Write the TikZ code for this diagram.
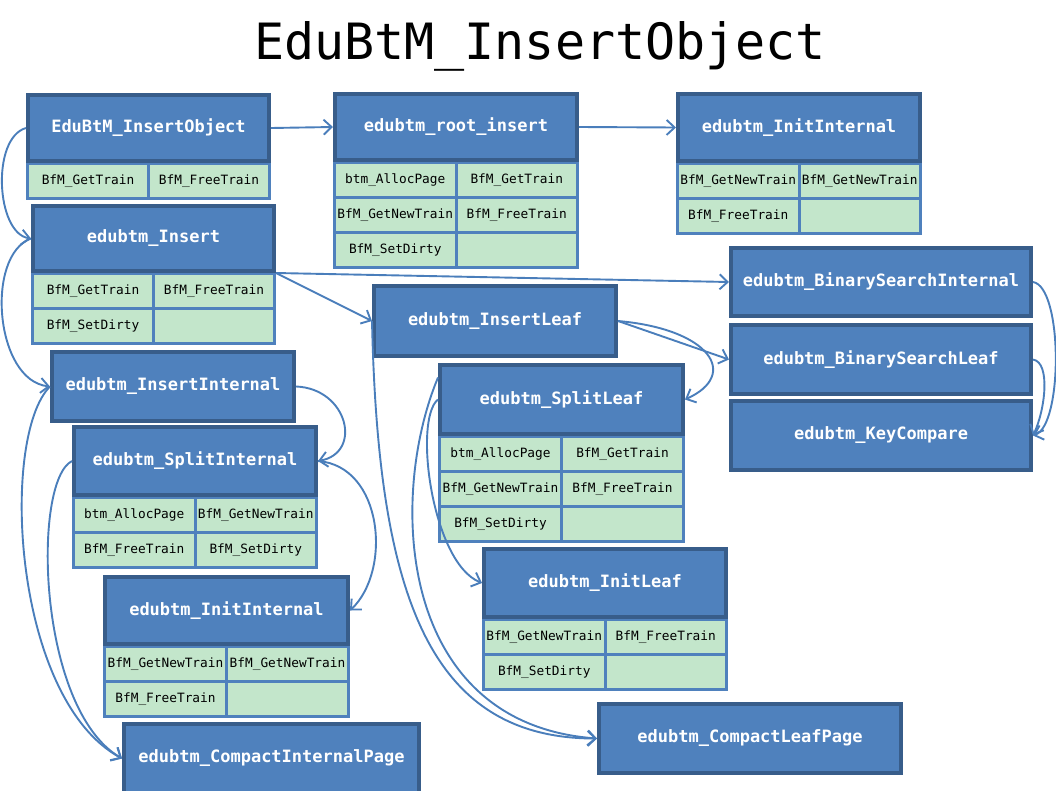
\documentclass[tikz,border=0pt]{standalone}
\usepackage{fontspec}
\newfontfamily\dmono{DejaVu Sans Mono}
\usetikzlibrary{arrows.meta,calc}
\definecolor{hdrfill}{HTML}{4F81BD}
\definecolor{hdrline}{HTML}{385D8A}
\definecolor{tabblue}{HTML}{4F81BD}
\definecolor{cellgreen}{HTML}{C3E6CB}
\definecolor{linkblue}{HTML}{4A7EBB}
\tikzset{
  hdr/.style={fill=hdrfill, draw=hdrline, line width=4pt, text=white,
    font=\dmono\bfseries\fontsize{17}{20}\selectfont, inner sep=0pt},
  cell/.style={fill=cellgreen, inner sep=0pt, text=black,
    font=\dmono\fontsize{12.8}{15}\selectfont},
  link/.style={draw=linkblue, line width=1.9pt, -{Straight Barb[length=8pt,width=15pt]}},
  titletext/.style={font=\dmono\fontsize{50}{55}\selectfont, text=black, inner sep=0pt},
}
\newcommand\mkhdr[6]{%
  \node[hdr, minimum width={#4-#2-4}, minimum height={#5-#3-4}] (#1) at ({(#2+#4)/2},{(#3+#5)/2}) {#6};}
\newcommand\mktbl[6]{%
  \fill[tabblue] (#2,#3) rectangle (#4,{#3+#5*35+3});
  \pgfmathsetmacro\cw{(#4-#2-9)/2}
  \foreach \celltext [count=\i from 0] in {#6} {
    \pgfmathtruncatemacro\myrow{floor(\i/2)}
    \pgfmathtruncatemacro\mycol{mod(\i,2)}
    \pgfmathsetmacro\cx{#2+3+\mycol*(\cw+3)+\cw/2}
    \pgfmathsetmacro\cy{#3+3+\myrow*35+16}
    \node[cell, minimum width=\cw, minimum height=32] (#1-\i) at (\cx,\cy) {\celltext};
  }}
\begin{document}
\begin{tikzpicture}[x=1pt,y=-1pt]
\useasboundingbox (0,0) rectangle (1056,790);
\clip (0,0) rectangle (1056,790);

\node[titletext] (title) at (540,46) {EduBtM\_InsertObject};

% tables
\mktbl{At}{26}{162}{271}{1}{BfM\_GetTrain,BfM\_FreeTrain}
\mktbl{Ct}{333}{161}{579}{3}{btm\_AllocPage,BfM\_GetTrain,BfM\_GetNewTrain,BfM\_FreeTrain,BfM\_SetDirty,{}}
\mktbl{Dt}{676}{162}{922}{2}{BfM\_GetNewTrain,BfM\_GetNewTrain,BfM\_FreeTrain,{}}
\mktbl{Bt}{31}{272}{276}{2}{BfM\_GetTrain,BfM\_FreeTrain,BfM\_SetDirty,{}}
\mktbl{It}{438}{435}{685}{3}{btm\_AllocPage,BfM\_GetTrain,BfM\_GetNewTrain,BfM\_FreeTrain,BfM\_SetDirty,{}}
\mktbl{Kt}{72}{496}{318}{2}{btm\_AllocPage,BfM\_GetNewTrain,BfM\_FreeTrain,BfM\_SetDirty}
\mktbl{Lt}{103}{645}{350}{2}{BfM\_GetNewTrain,BfM\_GetNewTrain,BfM\_FreeTrain,{}}
\mktbl{Nt}{482}{618}{728}{2}{BfM\_GetNewTrain,BfM\_FreeTrain,BfM\_SetDirty,{}}

% headers
\mkhdr{A}{26}{93}{271}{163}{EduBtM\_InsertObject}
\mkhdr{C}{333}{92}{579}{162}{edubtm\_root\_insert}
\mkhdr{D}{676}{92}{922}{163}{edubtm\_InitInternal}
\mkhdr{B}{31}{204}{276}{273}{edubtm\_Insert}
\mkhdr{H}{372}{284}{618}{358}{edubtm\_InsertLeaf}
\mkhdr{E}{729}{246}{1033}{318}{edubtm\_BinarySearchInternal}
\mkhdr{F}{729}{323}{1033}{396}{edubtm\_BinarySearchLeaf}
\mkhdr{G}{729}{399}{1033}{472}{edubtm\_KeyCompare}
\mkhdr{I}{438}{363}{685}{436}{edubtm\_SplitLeaf}
\mkhdr{J}{50}{350}{296}{423}{edubtm\_InsertInternal}
\mkhdr{K}{72}{425}{318}{497}{edubtm\_SplitInternal}
\mkhdr{L}{103}{575}{350}{646}{edubtm\_InitInternal}
\mkhdr{M}{122}{722}{421}{795}{edubtm\_CompactInternalPage}
\mkhdr{N}{482}{547}{728}{619}{edubtm\_InitLeaf}
\mkhdr{O}{597}{702}{903}{775}{edubtm\_CompactLeafPage}

\coordinate (Iup) at ($(I.west)+(0,-22)$);

% connectors
\draw[link] (A.east) -- (C.west);
\draw[link] (C.east) -- (D.west);
\draw[link] (A.west) .. controls +(-35,10) and +(-35,-5) .. (B.west);
\draw[link] (B.west) .. controls +(-46,17) and +(-55,-6) .. (J.west);
\draw[link] (B.south east) -- (E.west);
\draw[link] (B.south east) -- (H.west);
\draw[link] (J.east) .. controls +(52,2) and +(45,-8) .. (K.east);
\draw[link] (K.east) .. controls +(65,5) and +(42,-40) .. (L.east);
\draw[link] (J.west) .. controls +(-50,50) and +(-110,-60) .. (M.west);
\draw[link] (K.west) .. controls +(-40,20) and +(-85,-50) .. (M.west);
\draw[link] (H.east) -- (F.west);
\draw[link] (H.east) .. controls +(92,8) and +(55,-25) .. (I.east);
\draw[link] (H.west) .. controls +(6,270) and +(-170,0) .. (O.west);
\draw[link] (Iup) .. controls +(-50,120) and +(-200,-15) .. (O.west);
\draw[link] (I.west) .. controls +(-25,20) and +(-50,-20) .. (N.west);
\draw[link] (E.east) .. controls +(30,5) and +(30,-10) .. (G.east);
\draw[link] (F.east) .. controls +(18,3) and +(12,-25) .. (G.east);
\end{tikzpicture}
\end{document}
